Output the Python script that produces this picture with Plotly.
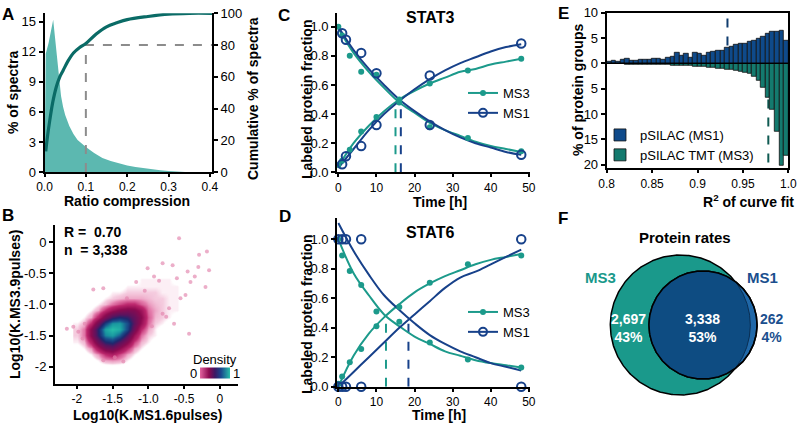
import numpy as np
import plotly.graph_objects as go

W, H = 800, 423
FONT = "Liberation Sans, Arial, sans-serif"
TEAL = '#1c9a8b'
NAVY = '#17418a'

# ---------------- A : ratio compression ----------------
ratio_x = [0.0, 0.003, 0.01, 0.015, 0.021, 0.025, 0.03, 0.035, 0.04, 0.045, 0.05, 0.06, 0.07,
           0.08, 0.09, 0.1, 0.12, 0.14, 0.16, 0.18, 0.2, 0.22, 0.24, 0.26, 0.28, 0.3, 0.32, 0.34, 0.4]
ratio_pct = [0, 11.8, 12.9, 14.0, 15.2, 13.6, 11.5, 9.3, 7.6, 6.5, 5.7, 4.6, 3.8,
             3.2, 2.8, 2.5, 1.9, 1.4, 1.1, 0.85, 0.65, 0.5, 0.38, 0.28, 0.18, 0.1, 0.04, 0.0, 0.0]
cum_x = [0.003, 0.007, 0.013, 0.02, 0.029, 0.037, 0.045, 0.057, 0.07, 0.085, 0.1, 0.125,
         0.15, 0.175, 0.2, 0.25, 0.3, 0.35, 0.405]
cum_pct = [13, 22, 33, 44, 54, 60, 64, 70, 75, 78.5, 81, 87, 91.5, 94, 96, 98, 99.5, 100, 100]
cutoff_ratio = 0.1
cutoff_cum = 80
A_XMAX = 0.405

# ---------------- B : density scatter ----------------
dens_x = [-2.0, -1.9, -1.8, -1.7, -1.6, -1.5, -1.4, -1.3, -1.2, -1.1, -1.0, -0.9, -0.8, -0.7, -0.6, -0.5]
dens_y = [-2.0, -1.9, -1.8, -1.7, -1.6, -1.5, -1.4, -1.3, -1.2, -1.1, -1.0, -0.9, -0.8, -0.7, -0.6, -0.5]
dens_z = [
    [0, 0, 0, 0, 0, 0, 0, 0, 0, 0, 0, 0, 0, 0, 0, 0],
    [0, 0, 0, .02, .05, .06, .05, .02, 0, 0, 0, 0, 0, 0, 0, 0],
    [0, 0, .02, .06, .15, .2, .12, .05, .02, 0, 0, 0, 0, 0, 0, 0],
    [0, .02, .06, .22, .38, .42, .3, .15, .05, .02, 0, 0, 0, 0, 0, 0],
    [.02, .04, .18, .42, .6, .65, .5, .32, .12, .04, .02, 0, 0, 0, 0, 0],
    [.03, .08, .32, .6, .85, .9, .78, .52, .25, .08, .03, .02, 0, 0, 0, 0],
    [.03, .08, .32, .62, .92, 1.0, .95, .72, .4, .15, .05, .02, 0, 0, 0, 0],
    [.02, .04, .16, .42, .7, .88, .9, .74, .48, .26, .08, .03, .02, 0, 0, 0],
    [0, .02, .05, .18, .38, .55, .62, .58, .45, .3, .1, .04, .03, .02, 0, 0],
    [0, 0, .02, .05, .15, .25, .32, .36, .34, .24, .08, .05, .03, .02, .02, 0],
    [0, 0, 0, .02, .04, .08, .12, .16, .16, .1, .06, .04, .03, .02, .02, 0],
    [0, 0, 0, 0, .02, .03, .04, .05, .05, .05, .04, .03, .03, .02, .02, 0],
    [0, 0, 0, 0, 0, .02, .02, .03, .03, .03, .03, .03, .02, .02, .02, 0],
    [0, 0, 0, 0, 0, 0, 0, .02, .02, .02, .02, .02, .02, .02, .02, 0],
    [0, 0, 0, 0, 0, 0, 0, 0, 0, .02, .02, .02, .02, .02, 0, 0],
    [0, 0, 0, 0, 0, 0, 0, 0, 0, 0, 0, 0, 0, 0, 0, 0],
]
out_x = [-0.57, -0.29, -0.18, -0.15, -0.80, -0.66, -1.01, -1.17, -1.77, -1.63, -0.45, -0.41,
         -0.48, -0.20, -0.71, -0.75, -0.64, -0.43, -2.14, -2.05, -1.98, -1.89, -1.63, -1.47,
         -0.92, -0.85, -1.05, -0.60, -0.35, -0.55, -1.30, -1.92, -1.35, -0.95, -0.80, -0.30]
out_y = [0.065, -0.20, -0.15, -0.45, -0.34, -0.37, -0.42, -0.64, -0.76, -0.74, -0.47, -0.64,
         -0.85, -0.72, -1.06, -1.20, -1.31, -1.47, -1.39, -1.36, -1.44, -1.31, -1.90, -1.85,
         -0.55, -0.62, -0.78, -0.58, -0.55, -0.90, -0.90, -1.55, -1.92, -1.35, -1.15, -0.40]
r_value = 0.70
n_value = 3338

# ---------------- C / D : STAT3, STAT6 ----------------
ms3_t = [0, 1, 3, 6, 10, 16, 24, 34, 48]
ms1_t = [0, 1, 2, 6, 10, 24, 48]
fit_t = [0, 4, 8, 12, 16, 20, 24, 28, 32, 36, 40, 44, 48]

stat3_ms3_old = [1.0, 0.94, 0.80, 0.69, 0.67, 0.48, 0.31, 0.235, 0.145]
stat3_ms3_new = [0.05, 0.08, 0.155, 0.28, 0.38, 0.50, 0.61, 0.70, 0.78]
stat3_ms1_old = [None, 0.955, 0.91, 0.82, 0.68, 0.325, 0.12]
stat3_ms1_new = [None, 0.055, 0.11, 0.18, 0.325, 0.665, 0.885]
stat3_fit_ms3_old = [0.99, 0.82, 0.69, 0.58, 0.48, 0.41, 0.34, 0.29, 0.25, 0.21, 0.18, 0.16, 0.14]
stat3_fit_ms3_new = [0.04, 0.20, 0.32, 0.42, 0.50, 0.56, 0.61, 0.65, 0.69, 0.71, 0.74, 0.76, 0.78]
stat3_fit_ms1_old = [1.0, 0.84, 0.71, 0.60, 0.50, 0.42, 0.35, 0.29, 0.24, 0.20, 0.17, 0.14, 0.12]
stat3_fit_ms1_new = [0.03, 0.16, 0.29, 0.40, 0.49, 0.57, 0.64, 0.70, 0.75, 0.79, 0.83, 0.86, 0.88]
stat3_half_t = [15.0, 16.4]
stat3_half_y = [0.49, 0.49]

stat6_ms3_old = [1.0, 0.89, 0.785, 0.69, 0.51, 0.44, 0.30, 0.185, 0.13]
stat6_ms3_new = [0.02, 0.07, 0.165, 0.255, 0.41, 0.54, 0.705, 0.83, 0.89]
stat6_ms1_old = [1.0, 1.0, 1.0, 1.0, None, None, 0.0]
stat6_ms1_new = [0.0, 0.0, 0.0, 0.0, None, None, 1.0]
stat6_fit_ms3_old = [1.0, 0.77, 0.62, 0.49, 0.41, 0.34, 0.29, 0.24, 0.21, 0.18, 0.16, 0.145, 0.13]
stat6_fit_ms3_new = [0.0, 0.21, 0.36, 0.47, 0.56, 0.64, 0.70, 0.75, 0.79, 0.83, 0.86, 0.88, 0.90]
stat6_fit_ms1_old = [1.11, 0.92, 0.76, 0.62, 0.52, 0.43, 0.35, 0.29, 0.24, 0.20, 0.16, 0.135, 0.11]
stat6_fit_ms1_new = [0.0, 0.10, 0.20, 0.30, 0.40, 0.49, 0.58, 0.67, 0.74, 0.78, 0.83, 0.88, 0.93]
stat6_half_t = [12.5, 18.4]
stat6_half_y = [0.47, 0.46]

# ---------------- E : R2 histogram ----------------
r2_ms1 = [0.3, 0.45, 0.4, 0.8, 0.85, 0.6, 0.6, 0.7, 0.8, 0.7, 0.85, 1.0, 0.8, 1.05, 1.4, 2.15,
          1.5, 2.0, 1.2, 2.2, 2.0, 1.5, 2.1, 2.3, 2.5, 2.6, 3.1, 3.3, 3.6, 3.8, 3.9, 4.2,
          4.4, 4.8, 5.3, 5.9, 6.2, 6.2, 6.5, 4.4]
r2_ms3 = [0.1, 0.1, 0.15, 0.15, 0.2, 0.2, 0.2, 0.25, 0.2, 0.3, 0.3, 0.3, 0.35, 0.35, 0.4, 0.4,
          0.45, 0.5, 0.55, 0.6, 0.7, 0.75, 0.8, 0.9, 1.0, 1.1, 1.2, 1.3, 1.4, 1.6, 1.8, 2.1,
          2.6, 3.5, 4.8, 6.8, 9.2, 13.4, 20.2, 18.2]
r2_median = [0.933, 0.978]

# ---------------- F : Venn ----------------
venn_counts = [2697, 3338, 262]   # MS3 only, both, MS1 only


def xd(a, b):
    return [a / W, b / W]


def yd(top, bottom):
    return [1 - bottom / H, 1 - top / H]


axis_common = dict(showline=True, linecolor='black', linewidth=2, ticks='outside', ticklen=4,
                   tickwidth=1.5, tickcolor='black', showgrid=False, zeroline=False,
                   tickfont=dict(size=13, color='black', family=FONT))
xaxis_common = dict(axis_common, ticklen=3, tickfont=dict(size=12, color='black', family=FONT))

fig = go.Figure()

# ---- A traces
fig.add_trace(go.Scatter(x=ratio_x, y=ratio_pct, mode='lines', fill='tozeroy',
                         fillcolor='#5cb8b0', line=dict(color='#5cb8b0', width=0),
                         xaxis='x', yaxis='y', showlegend=False))
fig.add_trace(go.Scatter(x=[cutoff_ratio, cutoff_ratio, A_XMAX], y=[0, cutoff_cum, cutoff_cum],
                         mode='lines', line=dict(color='#8c8c8c', width=2, dash='dash'),
                         xaxis='x', yaxis='y2', showlegend=False, cliponaxis=False))
fig.add_trace(go.Scatter(x=cum_x, y=cum_pct, mode='lines', line=dict(color='#0a6b66', width=3.2, shape='spline'),
                         xaxis='x', yaxis='y2', showlegend=False))

# ---- B traces
cscale = [[0.0, 'rgba(255,255,255,0)'], [0.015, 'rgba(240,175,205,0.0)'], [0.03, 'rgba(236,160,195,0.55)'],
          [0.07, 'rgb(228,125,172)'], [0.15, 'rgb(190,40,110)'], [0.3, 'rgb(140,10,80)'],
          [0.5, 'rgb(90,20,95)'], [0.62, 'rgb(30,40,110)'], [0.75, 'rgb(25,80,140)'],
          [0.88, 'rgb(25,150,160)'], [1.0, 'rgb(40,190,170)']]
cb_scale = [[0.0, 'rgb(226,100,160)'], [0.3, 'rgb(140,10,80)'], [0.5, 'rgb(60,25,100)'],
            [0.7, 'rgb(25,70,140)'], [1.0, 'rgb(40,190,170)']]
fig.add_trace(go.Scatter(x=out_x, y=out_y, mode='markers',
                         marker=dict(size=4, color='rgba(226,130,172,0.65)'),
                         xaxis='x3', yaxis='y3', showlegend=False))
fig.add_trace(go.Heatmap(x=dens_x, y=dens_y, z=dens_z, zsmooth='best', colorscale=cscale,
                         zmin=0, zmax=1, xaxis='x3', yaxis='y3', hoverinfo='skip', showscale=False))
fig.add_trace(go.Scatter(x=[None, None], y=[None, None], mode='markers', showlegend=False,
                         xaxis='x3', yaxis='y3', hoverinfo='skip',
                         marker=dict(color=[0, 1], cmin=0, cmax=1, colorscale=cb_scale, showscale=True,
                                     colorbar=dict(orientation='h', x=215 / W, xanchor='center',
                                                   y=1 - 372.5 / H, yanchor='middle', len=30,
                                                   lenmode='pixels', thickness=11,
                                                   showticklabels=False, ticks='',
                                                   outlinewidth=0, xpad=0, ypad=0))))


# ---- C / D traces
def add_timecourse(xa, ya, leg, m3o, m3n, m1o, m1n, f3o, f3n, f1o, f1n, ht, hy):
    for hx, hyy, col in zip(ht, hy, [TEAL, NAVY]):
        fig.add_trace(go.Scatter(x=[hx, hx], y=[0, hyy], mode='lines',
                                 line=dict(color=col, width=2, dash='dash'),
                                 xaxis=xa, yaxis=ya, showlegend=False))
    for f, col in [(f3o, TEAL), (f3n, TEAL), (f1o, NAVY), (f1n, NAVY)]:
        fig.add_trace(go.Scatter(x=fit_t, y=f, mode='lines', line=dict(color=col, width=2, shape='spline'),
                                 xaxis=xa, yaxis=ya, showlegend=False))
    for d in (m3o, m3n):
        fig.add_trace(go.Scatter(x=ms3_t, y=d, mode='markers', marker=dict(size=6, color=TEAL),
                                 xaxis=xa, yaxis=ya, showlegend=False, cliponaxis=False))
    for d in (m1o, m1n):
        fig.add_trace(go.Scatter(x=ms1_t, y=d, mode='markers',
                                 marker=dict(size=8.5, color=NAVY, symbol='circle-open', line=dict(width=2)),
                                 xaxis=xa, yaxis=ya, showlegend=False, cliponaxis=False))
    fig.add_trace(go.Scatter(x=[None], y=[None], mode='lines+markers', name='MS3',
                             line=dict(color=TEAL, width=2), marker=dict(size=6, color=TEAL),
                             xaxis=xa, yaxis=ya, legend=leg))
    fig.add_trace(go.Scatter(x=[None], y=[None], mode='lines+markers', name='MS1',
                             line=dict(color=NAVY, width=2),
                             marker=dict(size=8, color=NAVY, symbol='circle-open', line=dict(width=2)),
                             xaxis=xa, yaxis=ya, legend=leg))


add_timecourse('x4', 'y4', 'legend2', stat3_ms3_old, stat3_ms3_new, stat3_ms1_old, stat3_ms1_new,
               stat3_fit_ms3_old, stat3_fit_ms3_new, stat3_fit_ms1_old, stat3_fit_ms1_new,
               stat3_half_t, stat3_half_y)
add_timecourse('x5', 'y5', 'legend3', stat6_ms3_old, stat6_ms3_new, stat6_ms1_old, stat6_ms1_new,
               stat6_fit_ms3_old, stat6_fit_ms3_new, stat6_fit_ms1_old, stat6_fit_ms1_new,
               stat6_half_t, stat6_half_y)

# ---- E traces
bin_w = 0.005
bin_centers = 0.8 + bin_w / 2 + bin_w * np.arange(len(r2_ms1))
fig.add_trace(go.Bar(x=bin_centers, y=r2_ms1, width=bin_w, name='pSILAC (MS1)',
                     marker=dict(color='#0f4a8a', line=dict(color='#111111', width=0.8)),
                     xaxis='x6', yaxis='y6', legend='legend'))
fig.add_trace(go.Bar(x=bin_centers, y=-np.array(r2_ms3), width=bin_w, name='pSILAC TMT (MS3)',
                     marker=dict(color='#147a6e', line=dict(color='#111111', width=0.8)),
                     xaxis='x6', yaxis='y6', legend='legend'))

# ---- F traces (Venn)
total3 = venn_counts[0] + venn_counts[1]
total1 = venn_counts[1] + venn_counts[2]
r3 = 70.0
r1 = r3 * np.sqrt(total1 / total3)
cx3, cx1, cy = 120.3, 143.0, 98.0
th = np.linspace(0, 2 * np.pi, 361)
c3x, c3y = cx3 + r3 * np.cos(th), cy + r3 * np.sin(th)
c1x, c1y = cx1 + r1 * np.cos(th), cy + r1 * np.sin(th)
in3 = (c1x - cx3) ** 2 + (c1y - cy) ** 2 <= r3 ** 2
in1 = (c3x - cx1) ** 2 + (c3y - cy) ** 2 <= r1 ** 2
lx = np.concatenate([c1x[in3], c3x[in1]])
ly = np.concatenate([c1y[in3], c3y[in1]])
ang = np.arctan2(ly - ly.mean(), lx - lx.mean())
order = np.argsort(ang)
lx, ly = np.append(lx[order], lx[order][0]), np.append(ly[order], ly[order][0])

fig.add_trace(go.Scatter(x=c3x, y=c3y, mode='lines', fill='toself', fillcolor='#1a998b',
                         line=dict(color='black', width=1.5), xaxis='x7', yaxis='y7', showlegend=False))
fig.add_trace(go.Scatter(x=c1x, y=c1y, mode='lines', fill='toself', fillcolor='#2068a8',
                         line=dict(color='black', width=1.5), xaxis='x7', yaxis='y7', showlegend=False))
fig.add_trace(go.Scatter(x=lx, y=ly, mode='lines', fill='toself', fillcolor='#0e4c82',
                         line=dict(color='#0a2e52', width=1), xaxis='x7', yaxis='y7', showlegend=False))
fig.add_trace(go.Scatter(x=c1x, y=c1y, mode='lines', line=dict(color='black', width=1.5),
                         xaxis='x7', yaxis='y7', showlegend=False))

pct = [round(100 * c / sum(venn_counts)) for c in venn_counts]

# ---------------- layout ----------------
lay = dict(
    width=W, height=H, margin=dict(l=0, r=0, t=0, b=0, autoexpand=False),
    paper_bgcolor='white', plot_bgcolor='rgba(0,0,0,0)',
    font=dict(family=FONT, color='black', size=13),
    barmode='relative', bargap=0,
    xaxis=dict(xaxis_common, domain=xd(44.5, 212), range=[0, A_XMAX], tickvals=[0, 0.1, 0.2, 0.3, 0.4],
               tickformat='.1f', anchor='y'),
    yaxis=dict(axis_common, domain=yd(13.3, 172), range=[0, 15.85], tickvals=[0, 3, 6, 9, 12, 15], anchor='x'),
    yaxis2=dict(axis_common, range=[0, 100], tickvals=[0, 20, 40, 60, 80, 100], overlaying='y',
                side='right', anchor='x'),
    xaxis3=dict(xaxis_common, domain=xd(55, 238), range=[-2.306, 0.255], tickvals=[-2, -1.5, -1, -0.5, 0],
                ticktext=['-2', '-1.5', '-1.0', '-0.5', '0'], anchor='y3'),
    yaxis3=dict(axis_common, domain=yd(225, 384), range=[-2.28, 0.277], tickvals=[0, -0.5, -1, -1.5, -2],
                ticktext=['0', '-0.5', '-1.0', '-1.5', '-2'], anchor='x3'),
    xaxis4=dict(xaxis_common, domain=xd(337.2, 530), range=[-0.3, 50.3], tickvals=[0, 10, 20, 30, 40, 50], anchor='y4'),
    yaxis4=dict(axis_common, domain=yd(13.3, 172.3), range=[0, 1.092], tickvals=[0, 0.2, 0.4, 0.6, 0.8, 1.0],
                tickformat='.1f', anchor='x4'),
    xaxis5=dict(xaxis_common, domain=xd(337.2, 530), range=[-0.3, 50.3], tickvals=[0, 10, 20, 30, 40, 50], anchor='y5'),
    yaxis5=dict(axis_common, domain=yd(218.3, 386.7), range=[0, 1.142], tickvals=[0, 0.2, 0.4, 0.6, 0.8, 1.0],
                tickformat='.1f', anchor='x5'),
    xaxis6=dict(xaxis_common, domain=xd(606.7, 788.3), range=[0.8, 1.0], tickvals=[0.8, 0.85, 0.9, 0.95, 1.0],
                ticktext=['0.8', '0.85', '0.9', '0.95', '1.0'], mirror=True, anchor='y6'),
    yaxis6=dict(axis_common, domain=yd(12.7, 168.3), range=[-20.7, 10], tickvals=[10, 5, 0, -5, -10, -15, -20],
                ticktext=['10', '5', '0', '5', '10', '15', '20'], mirror=True, anchor='x6'),
    xaxis7=dict(domain=xd(560, 800), range=[0, 240], visible=False, anchor='y7'),
    yaxis7=dict(domain=[0, 1 - 223 / H], range=[0, 200], visible=False, anchor='x7'),
    legend=dict(x=600 / W, y=1 - 120 / H, xanchor='left', yanchor='top', bgcolor='rgba(0,0,0,0)',
                font=dict(size=13), traceorder='normal'),
    legend2=dict(x=463 / W, y=1 - 78 / H, xanchor='left', yanchor='top', bgcolor='rgba(0,0,0,0)',
                 font=dict(size=13)),
    legend3=dict(x=463 / W, y=1 - 297 / H, xanchor='left', yanchor='top', bgcolor='rgba(0,0,0,0)',
                 font=dict(size=13)),
)
fig.update_layout(**lay)

# E dashed medians behind bars
fig.add_shape(type='line', xref='x6', yref='y6', x0=r2_median[0], x1=r2_median[0], y0=0, y1=10,
              line=dict(color='#0f3c6e', width=2, dash='dash'), layer='below')
fig.add_shape(type='line', xref='x6', yref='y6', x0=r2_median[1], x1=r2_median[1], y0=0, y1=-20.7,
              line=dict(color='#0f5a52', width=2, dash='dash'), layer='below')
fig.add_shape(type='line', xref='x6', yref='y6', x0=0.8, x1=1.0, y0=0, y1=0,
              line=dict(color='black', width=1.2))


def ann(text, x, y, size=14, bold=True, color='black', angle=0, xanchor='center'):
    t = f'<b>{text}</b>' if bold else text
    fig.add_annotation(text=t, x=x / W, y=1 - y / H, xref='paper', yref='paper', showarrow=False,
                       font=dict(size=size, color=color, family=FONT), textangle=angle,
                       xanchor=xanchor, yanchor='middle', borderpad=0)


# panel letters
for lt, x, y in [('A', 8, 14), ('B', 8, 216), ('C', 284, 15), ('D', 285, 217), ('E', 563, 13), ('F', 563, 218)]:
    ann(lt, x, y, size=17)

# axis titles
ann('% of spectra', 13, 93, angle=-90)
ann('Cumulative % of spectra', 253, 98, angle=-90)
ann('Ratio compression', 127, 201)
ann('Log10(K.MS3.9pulses)', 15, 305, angle=-90)
ann('Log10(K.MS1.6pulses)', 147, 414.5)
ann('Labeled protein fraction', 307, 100, angle=-90)
ann('Time [h]', 440, 202)
ann('Labeled protein fraction', 307, 315, angle=-90)
ann('Time [h]', 439, 414.5)
ann('% of protein groups', 578, 90, angle=-90)
ann('R<sup>2</sup> of curve fit', 748, 201)
ann('STAT3', 430, 18, size=16)
ann('STAT6', 430, 232, size=16)

# B texts
ann(f'R =  {r_value:.2f}', 63, 232, size=14, xanchor='left')
ann(f'n  = {n_value:,}', 63, 250, size=14, xanchor='left')
ann('Density', 215, 359, size=13, bold=False)
ann('0', 193, 373, size=13, bold=False)
ann('1', 236, 373, size=13, bold=False)

# F texts
ann('Protein rates', 685, 237, size=15)
ann('MS3', 600, 277, size=15, color='#1a998b')
ann('MS1', 762, 277, size=15, color='#1b4f8e')
ann(f'{venn_counts[0]:,}<br>{pct[0]}%', 628, 328, size=14, color='white')
ann(f'{venn_counts[1]:,}<br>{pct[1]}%', 702, 328, size=14, color='white')
ann(f'{venn_counts[2]:,}<br>{pct[2]}%', 772, 328, size=14, color='#1b4f8e')

fig.write_html('out.html', config={'displayModeBar': False},
               post_script="document.body.style.margin='0';document.body.style.overflow='hidden';")
